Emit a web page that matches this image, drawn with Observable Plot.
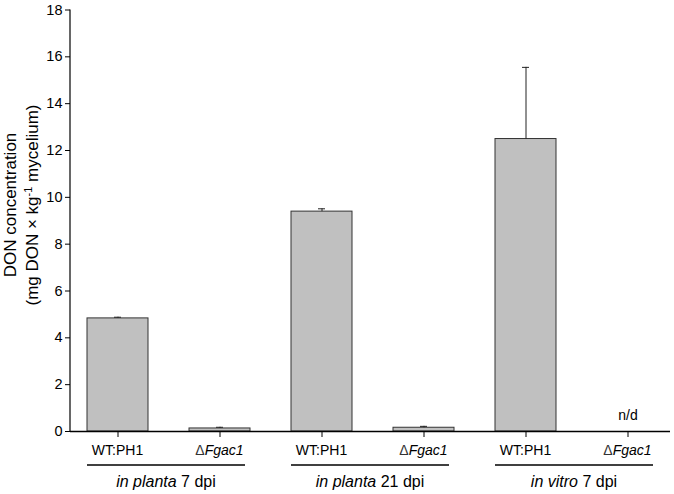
<!DOCTYPE html>
<html><head><meta charset="utf-8">
<script src="https://cdn.jsdelivr.net/npm/d3@7"></script>
<script src="https://cdn.jsdelivr.net/npm/@observablehq/plot@0.6"></script>
<style>body{margin:0;background:#fff} svg{font-family:"Liberation Sans",Arial,sans-serif}</style>
</head><body><div id="chart"></div>
<script>
const ids = ["p7wt","p7ko","p21wt","p21ko","v7wt","v7ko"];
const strainPrefix = ["", "Δ", "", "Δ", "", "Δ"];
const strainName = ["WT:PH1","Fgac1","WT:PH1","Fgac1","WT:PH1","Fgac1"];
const strainItalic = [false,true,false,true,false,true];
const values = [4.83, 0.13, 9.39, 0.16, 12.49, 0];
const errors = [0.05, 0.05, 0.12, 0.06, 3.06, 0];
const notes = ["","","","","","n/d"];
const groupItalic = ["in planta","in planta","in vitro"];
const groupRest = ["7 dpi","21 dpi","7 dpi"];
const groupFirst = ["p7wt","p21wt","v7wt"];
const groupLast = ["p7ko","p21ko","v7ko"];
const yTicks = [0,2,4,6,8,10,12,14,16,18];
const yLabel1 = "DON concentration";
const yLabel2a = "(mg DON × kg";
const yLabel2sup = "-1";
const yLabel2b = " mycelium)";

const data = ids.map((id,i)=>({id, v: values[i], e: errors[i], note: notes[i]}));

const chart = Plot.plot({
  width: 674, height: 494,
  marginLeft: 70, marginRight: 4, marginTop: 9.5, marginBottom: 63,
  style: {fontFamily: '"Liberation Sans",Arial,sans-serif', fontSize: "14px", color: "#000", background: "#fff"},
  x: {domain: ids, paddingInner: 0.4, paddingOuter: 0.135, align: 0.58, axis: null},
  y: {domain: [0, 18], axis: null},
  marks: [
    Plot.barY(data, {x: "id", y: "v", fill: "#c0c0c0", stroke: "#333", strokeWidth: 1}),
    Plot.ruleX(data, {x: "id", y1: "v", y2: d => d.v + d.e, stroke: "#222"}),
    Plot.tickY(data, {x: "id", y: d => d.v + d.e, insetLeft: 27, insetRight: 27, stroke: "#222"}),
    Plot.axisY({ticks: yTicks, tickSize: 5, tickPadding: 3, fontSize: 14.5, label: null}),
    Plot.axisX({tickSize: 6, tickFormat: () => "", label: null}),
    Plot.ruleY([0], {stroke: "#000", strokeWidth: 1.3}),
    Plot.text(data, {x: "id", y: 0, text: "note", dy: -16, fontSize: 14})
  ]
});
document.getElementById("chart").appendChild(chart);

const sx = chart.scale("x");
const sy = chart.scale("y");
const bw = sx.bandwidth;
const svg = d3.select(chart);
const ff = '"Liberation Sans",Arial,sans-serif';
// y axis line
svg.append("line").attr("x1", 70).attr("x2", 70)
  .attr("y1", sy.apply(0)).attr("y2", sy.apply(18))
  .attr("stroke", "#000").attr("stroke-width", 1.2);
ids.forEach((id, i) => {
  const cx = sx.apply(id) + bw / 2;
  const t = svg.append("text").attr("x", cx).attr("y", 455).attr("text-anchor", "middle")
    .style("font-size", "14px").style("font-family", ff).attr("fill", "#000");
  if (strainPrefix[i]) t.append("tspan").text(strainPrefix[i]).attr("fill", "#333");
  t.append("tspan").text(strainName[i]).style("font-style", strainItalic[i] ? "italic" : "normal");
});
groupFirst.forEach((f, g) => {
  const x1 = sx.apply(f);
  const x2 = sx.apply(groupLast[g]) + bw - 5;
  svg.append("line").attr("x1", x1).attr("x2", x2).attr("y1", 465).attr("y2", 465)
    .attr("stroke", "#000").attr("stroke-width", 1.6);
  const t = svg.append("text").attr("x", (x1 + x2) / 2).attr("y", 487).attr("text-anchor", "middle")
    .style("font-size", "16px").style("font-family", ff).attr("fill", "#000");
  t.append("tspan").text(groupItalic[g] + " ").style("font-style", "italic");
  t.append("tspan").text(groupRest[g]);
});
const ly = 205;
svg.append("text").attr("transform", `translate(16,${ly}) rotate(-90)`).attr("text-anchor", "middle")
  .style("font-size", "17px").style("font-family", ff).text(yLabel1);
const t2 = svg.append("text").attr("transform", `translate(38,${ly}) rotate(-90)`).attr("text-anchor", "middle")
  .style("font-size", "17px").style("font-family", ff);
t2.append("tspan").text(yLabel2a);
t2.append("tspan").text(yLabel2sup).attr("dy", -6).style("font-size", "11px");
t2.append("tspan").text(yLabel2b).attr("dy", 6);
</script>
</body></html>
